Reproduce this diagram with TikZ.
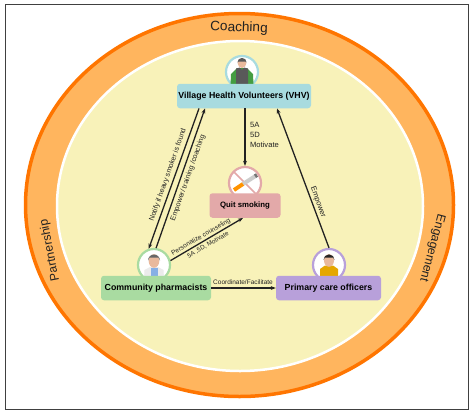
\documentclass[tikz,border=0pt]{standalone}
\usepackage{fontspec}
\setmainfont{Liberation Sans}
\definecolor{ringfill}{HTML}{FFB55E}
\definecolor{ringline}{HTML}{FF7500}
\definecolor{core}{HTML}{F8F2B9}
\definecolor{vhvc}{HTML}{A8DBDF}
\definecolor{quitc}{HTML}{E3A9A9}
\definecolor{pharmc}{HTML}{A9DBA1}
\definecolor{carec}{HTML}{B8A0DA}
\definecolor{skin}{HTML}{E9B99C}
\definecolor{ink}{HTML}{222222}
\usetikzlibrary{arrows.meta,shapes.geometric}
\tikzset{
  >={Stealth[length=1.8mm]},
  box/.style={rounded corners=3pt,minimum height=24.5pt,inner sep=0pt,font=\fontsize{8.8}{10}\selectfont\bfseries,text=black,align=center},
  icon/.style={circle,draw=#1,line width=2.2pt,fill=white,minimum size=32pt,inner sep=0pt},
  arr/.style={->,draw=ink,line width=1.3pt},
  lab/.style={font=\fontsize{7.6}{9.6}\selectfont,text=ink,inner sep=0pt,align=left},
  ringlab/.style={font=\fontsize{12.2}{14}\selectfont,text=ink,inner sep=0pt},
}
\begin{document}
\begin{tikzpicture}[x=1pt,y=-1pt]
\useasboundingbox (0,0) rectangle (476,416);
\node[draw=black!75,line width=1pt,minimum width=463pt,minimum height=405pt,inner sep=0pt] (frame) at (236.5,206.5) {};
\node[ellipse,draw=ringline,line width=3.5pt,fill=ringfill,minimum width=428pt,minimum height=383pt,inner sep=0pt] (outer) at (239.5,205) {};
\node[ellipse,draw=white,line width=2.5pt,fill=core,minimum width=366pt,minimum height=330pt,inner sep=0pt] (inner) at (240,206) {};
\node[ringlab,font=\fontsize{13.6}{15}\selectfont,rotate=-2] (coach) at (239,28) {Coaching};
\node[ringlab,rotate=101] (partner) at (50,250) {Partnership};
\node[ringlab,rotate=-105] (engage) at (432,248) {Engagement};
% icons go first, the boxes cover their lower edge
\node[icon=vhvc] (vicon) at (242,72) {};
\node[icon=quitc] (qicon) at (245,183) {};
\node[icon=pharmc] (picon) at (154,265) {};
\node[icon=carec] (cicon) at (329,265) {};
% volunteer
\begin{scope}[shift={(vicon)}]
\fill[green!45!black!60!pharmc] (-11.5,13) -- (-11,2) -- (-5,-4) -- (5,-4) -- (11,2) -- (11.5,13) -- cycle;
\fill[black!65] (-6,13) -- (-6,-3.5) -- (-2,-4.5) -- (0,-2) -- (2,-4.5) -- (6,-3.5) -- (6,13) -- cycle;
\fill[skin] (0,-9) ellipse (4.4 and 5);
\fill[black!65] (-4.6,-9.5) arc (180:360:4.6) -- (3.4,-10.5) -- (-3.4,-10.5) -- cycle;
\end{scope}
% no smoking sign
\begin{scope}[shift={(qicon)}]
\draw[quitc,line width=1.6pt] (-11,-11) -- (11,11);
\draw[line width=4pt,draw=black!20] (-2,1) -- (10,-6.7);
\draw[line width=4pt,draw=orange!85!yellow] (-11,7) -- (-2,1);
\draw[line width=4pt,draw=black!55] (10,-6.7) -- (12,-8);
\end{scope}
% pharmacist
\begin{scope}[shift={(picon)}]
\fill[black!8] (-10,14) -- (-9.5,5) -- (-4,2) -- (4,2) -- (9.5,5) -- (10,14) -- cycle;
\fill[vhvc!80!blue] (-3.5,14) -- (-3.5,3) -- (3.5,3) -- (3.5,14) -- cycle;
\fill[skin] (0,-4) ellipse (5.3 and 6.8);
\fill[black!60] (-6,-4.5) arc (180:360:6) -- (4.5,-7.5) -- (-4.5,-7.5) -- cycle;
\end{scope}
% primary care officer
\begin{scope}[shift={(cicon)}]
\fill[orange!55!yellow!90!black] (-9,14) -- (-9,4) -- (-4,0.5) -- (4,0.5) -- (9,4) -- (9,14) -- cycle;
\fill[skin] (0,-4.5) ellipse (5 and 6.3);
\fill[black!85] (-5.6,-5) arc (180:360:5.6) -- (4,-7.5) -- (-4,-7.5) -- cycle;
\end{scope}
\node[box,fill=vhvc,minimum width=134pt] (vhv) at (244,96) {Village Health Volunteers (VHV)};
\node[box,fill=quitc,minimum width=71pt,font=\fontsize{7.8}{9}\selectfont\bfseries] (quit) at (245,205.5) {Quit smoking};
\node[box,fill=pharmc,minimum width=110pt] (pharm) at (156,288) {Community pharmacists};
\node[box,fill=carec,minimum width=105pt] (care) at (328.5,288) {Primary care officers};
\draw[arr] (vhv.south -| qicon) -- (qicon.north);
\draw[arr] ([xshift=-45pt]vhv.south) -- (picon.108);
\draw[arr] (picon.83) -- ([xshift=-39pt]vhv.south);
\draw[arr] (cicon.90) -- ([xshift=33pt]vhv.south);
\draw[arr] (picon.15) -- ([xshift=-2pt]quit.south);
\draw[arr] (pharm.east) -- (care.west);
\node[lab] (mlab) at (264.5,135) {5A\\5D\\Motivate};
\node[lab,rotate=70.6,font=\fontsize{7.2}{9}\selectfont] (nlab) at (168,175) {Notify if heavy smoker is found};
\node[lab,rotate=70.6,font=\fontsize{7.2}{9}\selectfont] (elab) at (188,178) {Empower/ training /coaching};
\node[lab,rotate=-70,font=\fontsize{7.6}{9}\selectfont] (rlab) at (318,202) {Empower};
\node[lab,rotate=30,font=\fontsize{6.5}{8}\selectfont] (clab) at (201,237) {Personalize counseling};
\node[lab,rotate=30,font=\fontsize{6.3}{8}\selectfont] (dlab) at (208,245) {5A ,5D, Motivate};
\node[lab,font=\fontsize{6.5}{8}\selectfont] (flab) at (243,282) {Coordinate/Facilitate};
\end{tikzpicture}
\end{document}
